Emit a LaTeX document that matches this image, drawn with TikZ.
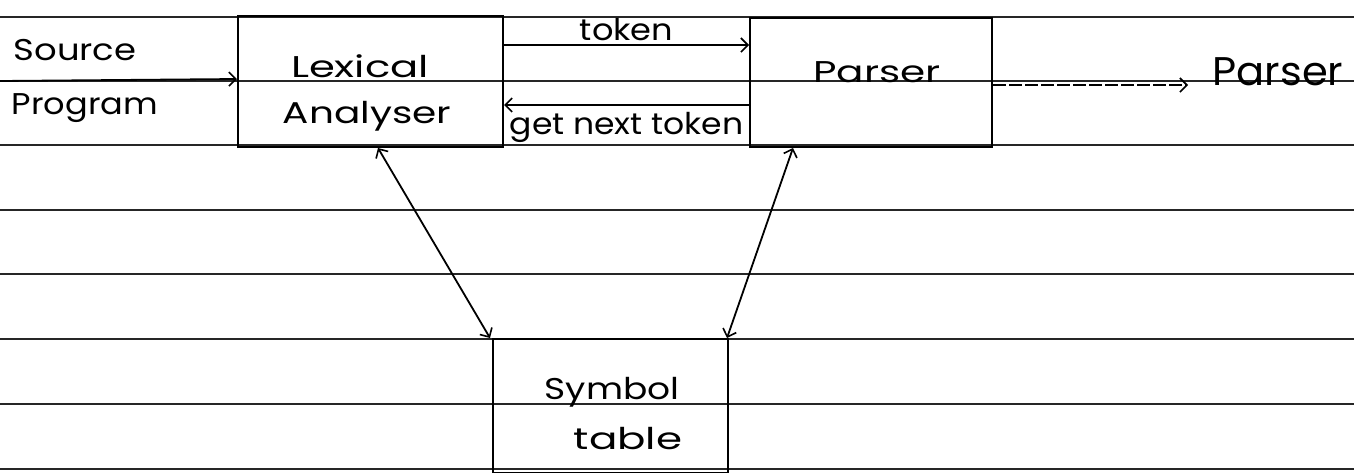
\documentclass[tikz,border=0pt]{standalone}
\usepackage{fontspec}
\setmainfont{Poppins}
\usetikzlibrary{arrows.meta}
\tikzset{
  rule/.style={line width=1.6pt, draw=black!85},
  boxst/.style={draw, line width=2pt, inner sep=0pt},
  hand/.style={font=\fontsize{30}{34}\selectfont, inner sep=0pt},
  big/.style={font=\fontsize{40}{44}\selectfont, inner sep=0pt},
  conn/.style={line width=1.8pt, -{Straight Barb[length=7pt,width=14pt,line width=1.6pt]}},
  bidir/.style={line width=1.8pt, {Straight Barb[length=7pt,width=14pt,line width=1.6pt]}-{Straight Barb[length=7pt,width=14pt,line width=1.6pt]}}
}
\begin{document}
\begin{tikzpicture}[x=1pt,y={(0pt,-1pt)}]
\useasboundingbox (0,0) rectangle (1354,472);
% ruled paper lines
\foreach \yy in {17,81,145,210,274,339,404,469}
  \draw[rule] (0,\yy) -- (1354,\yy);
% boxes
\node[boxst, minimum width=265pt, minimum height=131pt] (lex) at (370.5,81.5) {};
\node[boxst, minimum width=242pt, minimum height=129pt] (par) at (871,82.5) {};
\node[boxst, minimum width=235pt, minimum height=134pt] (sym) at (610,406) {};
% box texts
\node[hand, xscale=1.39] (lexA) at (360,66) {Lexical};
\node[hand, xscale=1.3] (lexB) at (367,116) {Analyser};
\node[hand, xscale=1.35] (parT) at (877,72) {Parser};
\node[hand, xscale=1.2] (symA) at (612,392) {Symbol};
\node[hand, xscale=1.4] (symB) at (628,439) {table};
% outside texts
\node[hand, xscale=1.18] (src) at (75,50) {Source};
\node[hand, xscale=1.12] (prog) at (85,108) {Program};
\node[big, xscale=1.04] (outp) at (1278,72) {Parser};
% connectors
\coordinate (srcS) at (0,81);
\draw[conn] (srcS) -- (lex.west |- 0,79);
\draw[conn] (lex.east |- 0,45) -- node[hand, xscale=1.12, above=3pt] (tok) {token} (par.west |- 0,45);
\draw[conn] (par.west |- 0,105) -- node[hand, xscale=1.1, below=6pt] (gnt) {get next token} (lex.east |- 0,105);
\coordinate (outA) at (1188,85);
\draw[conn, dash pattern=on 13pt off 3pt] (par.east |- 0,85) -- (outA);
\draw[bidir] (lex.south -| 378,0) -- (sym.north -| 490,0);
\draw[bidir] (par.south -| 793,0) -- (sym.north -| 727,0);
\end{tikzpicture}
\end{document}
